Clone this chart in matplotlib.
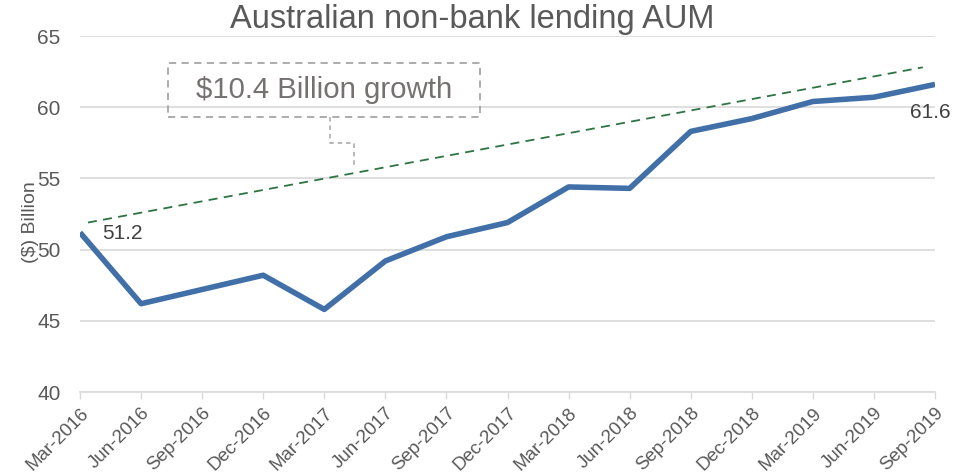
import matplotlib
matplotlib.use("Agg")
import matplotlib.pyplot as plt

plt.rcParams['font.family'] = ['Liberation Sans', 'DejaVu Sans']

# Quarterly AUM, $ billion
quarters = ["Mar-2016", "Jun-2016", "Sep-2016", "Dec-2016", "Mar-2017", "Jun-2017",
            "Sep-2017", "Dec-2017", "Mar-2018", "Jun-2018", "Sep-2018", "Dec-2018",
            "Mar-2019", "Jun-2019", "Sep-2019"]
aum = [51.2, 46.2, 47.2, 48.2, 45.8, 49.2, 50.9, 51.9, 54.4, 54.3, 58.3, 59.2,
       60.4, 60.7, 61.6]

# Growth guide line (start / end values)
trend_x = [0.13, 13.8]
trend_y = [51.9, 62.8]

growth_text = "$10.4 Billion growth"
y_ticks = [40, 45, 50, 55, 60, 65]

TEXT = '#595959'
GRID = '#d9d9d9'
LINE = '#4170A8'
TREND = '#2D7443'
NOTE = '#767171'

fig = plt.figure(figsize=(9.74, 4.75), dpi=100)
ax = fig.add_axes([80 / 974, 1 - 392 / 475, (935 - 80) / 974, (392 - 36) / 475])

x = list(range(len(quarters)))
ax.plot(x, aum, color=LINE, linewidth=4.0, solid_joinstyle='round',
        solid_capstyle='butt', zorder=4)
ax.plot(trend_x, trend_y, color=TREND, linewidth=1.3, linestyle=(0, (5, 3.5)), zorder=3)

ax.set_xlim(0, len(quarters) - 1)
ax.set_ylim(y_ticks[0], y_ticks[-1])
ax.set_yticks(y_ticks)
ax.set_xticks(x)
ax.set_xticklabels(quarters, rotation=45, ha='right', va='top',
                   rotation_mode='anchor', fontsize=13.5, color=TEXT)
ax.tick_params(axis='x', direction='out', length=5, color=GRID, width=1, pad=4)
ax.tick_params(axis='y', length=0, labelsize=15, labelcolor=TEXT, pad=14)
ax.grid(axis='y', color=GRID, linewidth=1.2)
ax.set_axisbelow(True)
for s in ['left', 'right', 'top']:
    ax.spines[s].set_visible(False)
ax.spines['bottom'].set_color(GRID)
ax.spines['bottom'].set_linewidth(1.2)

ax.set_ylabel("($) Billion", fontsize=14, color=TEXT)
ax.yaxis.set_label_coords(-0.048, 0.478)

# Data labels for first and last points
ax.annotate(f"{aum[0]:.1f}", (x[0], aum[0]), xytext=(16, -1), textcoords='offset points',
            fontsize=15, color='#404040', ha='left', va='center')
ax.annotate(f"{aum[-1]:.1f}", (x[-1], aum[-1]), xytext=(-3.5, -20), textcoords='offset points',
            fontsize=15, color='#404040', ha='center', va='center')

fig.text(0.485, 0.958, "Australian non-bank lending AUM", fontsize=23.5,
         color=TEXT, ha='center', va='center')

# Callout box with elbow connector to the guide line
box_x0, box_x1 = 1.44, 6.55
box_y0, box_y1 = 59.3, 63.1
ax.plot([box_x0, box_x1, box_x1, box_x0, box_x0], [box_y0, box_y0, box_y1, box_y1, box_y0],
        color='#a6a6a6', linewidth=1.3, linestyle=(0, (4, 3)), zorder=5, clip_on=False)
ax.text((box_x0 + box_x1) / 2, (box_y0 + box_y1) / 2, growth_text, fontsize=21.2,
        color=NOTE, ha='center', va='center', zorder=6)
conn_x0 = 4.09
conn_x1 = 4.49
ax.plot([conn_x0, conn_x0, conn_x1, conn_x1], [box_y0, 57.5, 57.5, 55.9],
        color='#a6a6a6', linewidth=1.1, linestyle=(0, (3, 2.5)), zorder=5)

fig.savefig("out.png", dpi=100, facecolor='white')
